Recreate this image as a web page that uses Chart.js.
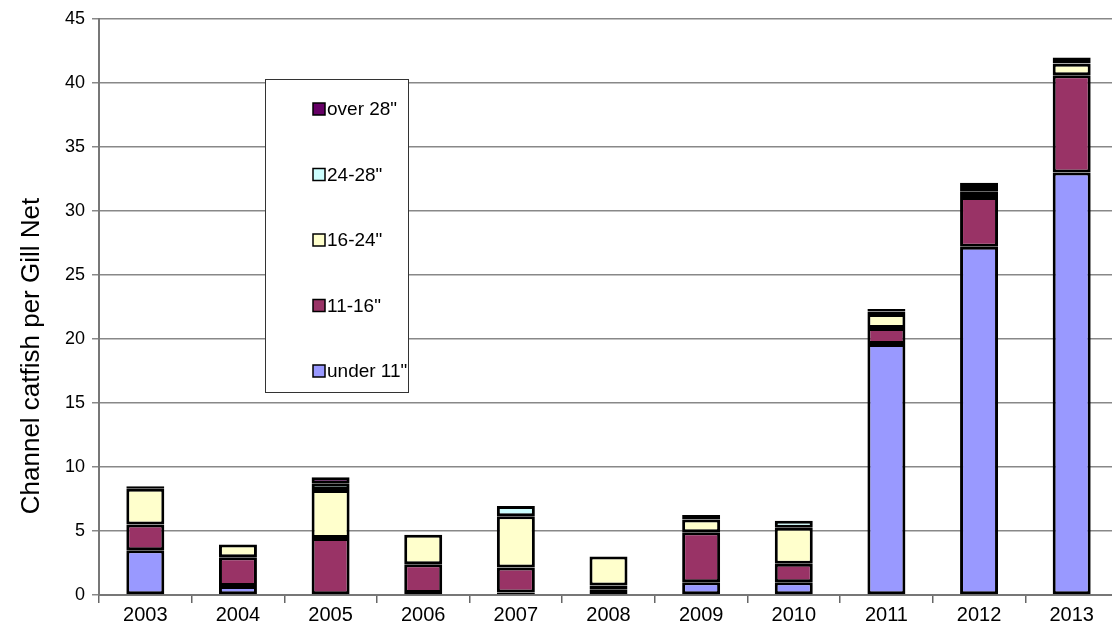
<!DOCTYPE html>
<html>
<head>
<meta charset="utf-8">
<script src="https://cdn.jsdelivr.net/npm/chart.js@4.4.0/dist/chart.umd.min.js"></script>
<style>
  html, body { margin: 0; padding: 0; background: #fff; overflow: hidden; }
  #wrap { position: relative; width: 1118px; height: 641px; }
</style>
</head>
<body>
<div id="wrap"><canvas id="chart"></canvas></div>
<script>
// years on the x axis
var years = ["2003", "2004", "2005", "2006", "2007", "2008", "2009", "2010", "2011", "2012", "2013"];

// catch per gill net by length group
var under11 = [3.5, 0.7, 0, 0.15, 0.2, 0.45, 1.0, 1.0, 19.6, 27.2, 33.0];
var from11to16 = [2.0, 2.25, 4.45, 2.25, 1.95, 0.3, 3.9, 1.45, 1.25, 3.9, 7.6];
var from16to24 = [2.8, 1.0, 3.75, 2.3, 4.0, 2.25, 1.0, 2.8, 1.1, 0.45, 0.9];
var from24to28 = [0, 0, 0.5, 0, 0.8, 0, 0.2, 0.55, 0.2, 0.25, 0.05];
var over28 = [0.2, 0, 0.5, 0, 0, 0, 0.15, 0, 0.2, 0.4, 0.45];

var yTicks = [0, 5, 10, 15, 20, 25, 30, 35, 40, 45];

var seriesNames = ['under 11"', '11-16"', '16-24"', '24-28"', 'over 28"'];
var seriesColors = ["#9999ff", "#993366", "#ffffcc", "#ccffff", "#660066"];
var seriesData = [under11, from11to16, from16to24, from24to28, over28];
var yTitle = "Channel catfish per Gill Net";

var fontName = "'Liberation Sans', Arial, sans-serif";

var datasets = [];
for (var i = 0; i < seriesData.length; i++) {
  datasets.push({
    label: seriesNames[i],
    data: seriesData[i],
    backgroundColor: seriesColors[i],
    borderColor: "#000",
    borderWidth: 3,
    borderSkipped: false,
    barPercentage: 0.41,
    categoryPercentage: 1
  });
}

// legend box and axis title drawn by hand, legend top entry first
var boxLegend = {
  id: "boxLegend",
  afterDraw: function (chart) {
    var ctx = chart.ctx;
    ctx.save();
    ctx.fillStyle = "#fff";
    ctx.fillRect(265.5, 79.5, 143, 313);
    ctx.strokeStyle = "#333";
    ctx.lineWidth = 1;
    ctx.strokeRect(265.5, 79.5, 143, 313);
    ctx.font = "19px " + fontName;
    ctx.textBaseline = "middle";
    for (var k = 0; k < seriesNames.length; k++) {
      var idx = seriesNames.length - 1 - k;
      var y = 109 + k * 65.5;
      ctx.fillStyle = seriesColors[idx];
      ctx.fillRect(313, y - 6, 12, 12);
      ctx.strokeStyle = "#000";
      ctx.lineWidth = 1.5;
      ctx.strokeRect(313, y - 6, 12, 12);
      ctx.fillStyle = "#000";
      ctx.fillText(seriesNames[idx], 327, y + 1);
    }
    // rotated y title
    ctx.translate(32, 356);
    ctx.rotate(-Math.PI / 2);
    ctx.textAlign = "center";
    ctx.font = "26px " + fontName;
    ctx.fillText(yTitle, 0, 0);
    ctx.restore();
  }
};

new Chart(document.getElementById("chart"), {
  type: "bar",
  data: { labels: years, datasets: datasets },
  options: {
    responsive: true,
    maintainAspectRatio: false,
    animation: false,
    layout: { padding: { top: 19, right: 0, left: 0, bottom: 0 } },
    plugins: {
      legend: { display: false },
      tooltip: { enabled: false }
    },
    scales: {
      x: {
        stacked: true,
        afterFit: function (scale) { scale.height = 46; },
        grid: {
          offset: true,
          drawOnChartArea: false,
          drawTicks: true,
          tickLength: 8,
          color: "#666",
          lineWidth: 1.5
        },
        border: { display: true, color: "#777", width: 2 },
        ticks: { color: "#000", font: { family: fontName, size: 20 }, padding: 0, maxRotation: 0 }
      },
      y: {
        stacked: true,
        min: 0,
        max: 45,
        afterFit: function (scale) { scale.width = 99; },
        afterBuildTicks: function (scale) {
          scale.ticks = yTicks.map(function (v) { return { value: v }; });
        },
        grid: {
          color: "#888",
          lineWidth: 1.5,
          tickLength: 7
        },
        border: { display: true, color: "#777", width: 2 },
        ticks: { color: "#000", font: { family: fontName, size: 18 }, padding: 7 }
      }
    }
  },
  plugins: [boxLegend]
});
</script>
</body>
</html>
